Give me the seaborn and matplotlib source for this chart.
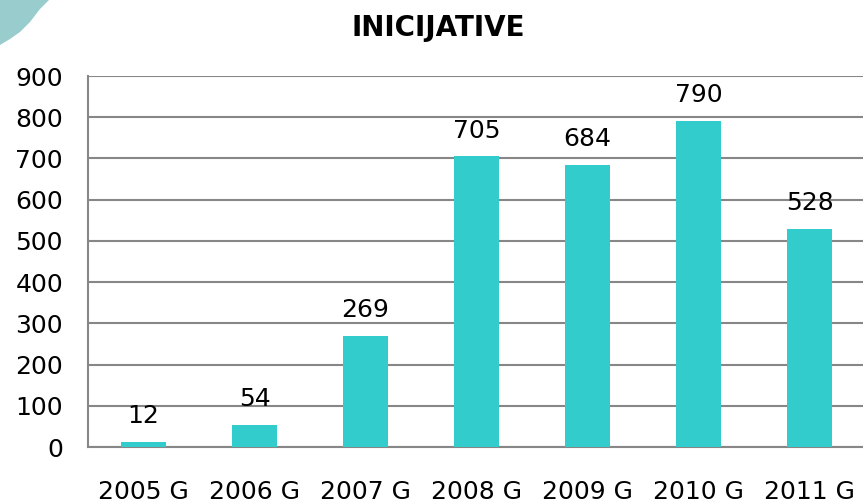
import matplotlib
matplotlib.use('Agg')
import matplotlib.pyplot as plt
import seaborn as sns
import pandas as pd
from matplotlib.patches import Polygon

# Chart data
years = ['2005 G', '2006 G', '2007 G', '2008 G', '2009 G', '2010 G', '2011 G']
initiatives = [12, 54, 269, 705, 684, 790, 528]

df = pd.DataFrame({'Year': years, 'Count': initiatives})

sns.set_style('white')
plt.rcParams['font.family'] = ['DejaVu Sans']
plt.rcParams['text.color'] = 'black'

grid_color = '#878787'
bar_color = '#33CCCC'

W, H = 863, 503
fig = plt.figure(figsize=(W / 100, H / 100), dpi=100)

# decorative corner shape (pixel outline -> figure fraction)
corner_px = [(0, 0), (0, 45), (10, 39), (20, 32), (30, 22), (40, 9), (49, 0)]
corner = Polygon([(x / W, 1 - y / H) for x, y in corner_px], closed=True,
                 transform=fig.transFigure, color='#99CCCC', lw=0)
fig.patches.append(corner)

ax = fig.add_axes([0.102, 0.1113, 0.9004, 0.7376])
sns.barplot(data=df, x='Year', y='Count', color=bar_color, width=0.4,
            saturation=1, linewidth=0, edgecolor='none', ax=ax, zorder=3)

ax.set_ylim(0, 900)
ax.set_xlim(-0.5, 6.5)
ax.set_yticks(range(0, 901, 100))
ax.yaxis.grid(True, color=grid_color, linewidth=1.5, zorder=0)
ax.set_axisbelow(True)

for side in ['top', 'right']:
    ax.spines[side].set_visible(False)
for side in ['left', 'bottom']:
    ax.spines[side].set_color(grid_color)
    ax.spines[side].set_linewidth(1.5)

# boundary ticks between categories
ax.set_xticks([i - 0.5 for i in range(len(years) + 1)], minor=True)
ax.tick_params(axis='x', which='minor', length=6, width=1.5, color=grid_color, direction='out')
ax.tick_params(axis='x', which='major', length=0, pad=24, labelsize=18, labelcolor='black')
ax.tick_params(axis='y', length=6, width=1.5, color=grid_color, direction='out', pad=12,
               labelsize=18, labelcolor='black')

ax.set_xlabel('')
ax.set_ylabel('')

for i, v in enumerate(initiatives):
    ax.annotate(str(v), (i, v), xytext=(0, 10), textcoords='offset points',
                ha='center', va='bottom', fontsize=18, color='black')

fig.text(0.508, 0.945, 'INICIJATIVE', ha='center', va='center',
         fontsize=20, fontweight='bold', color='black')

fig.savefig('out.png', dpi=100)
